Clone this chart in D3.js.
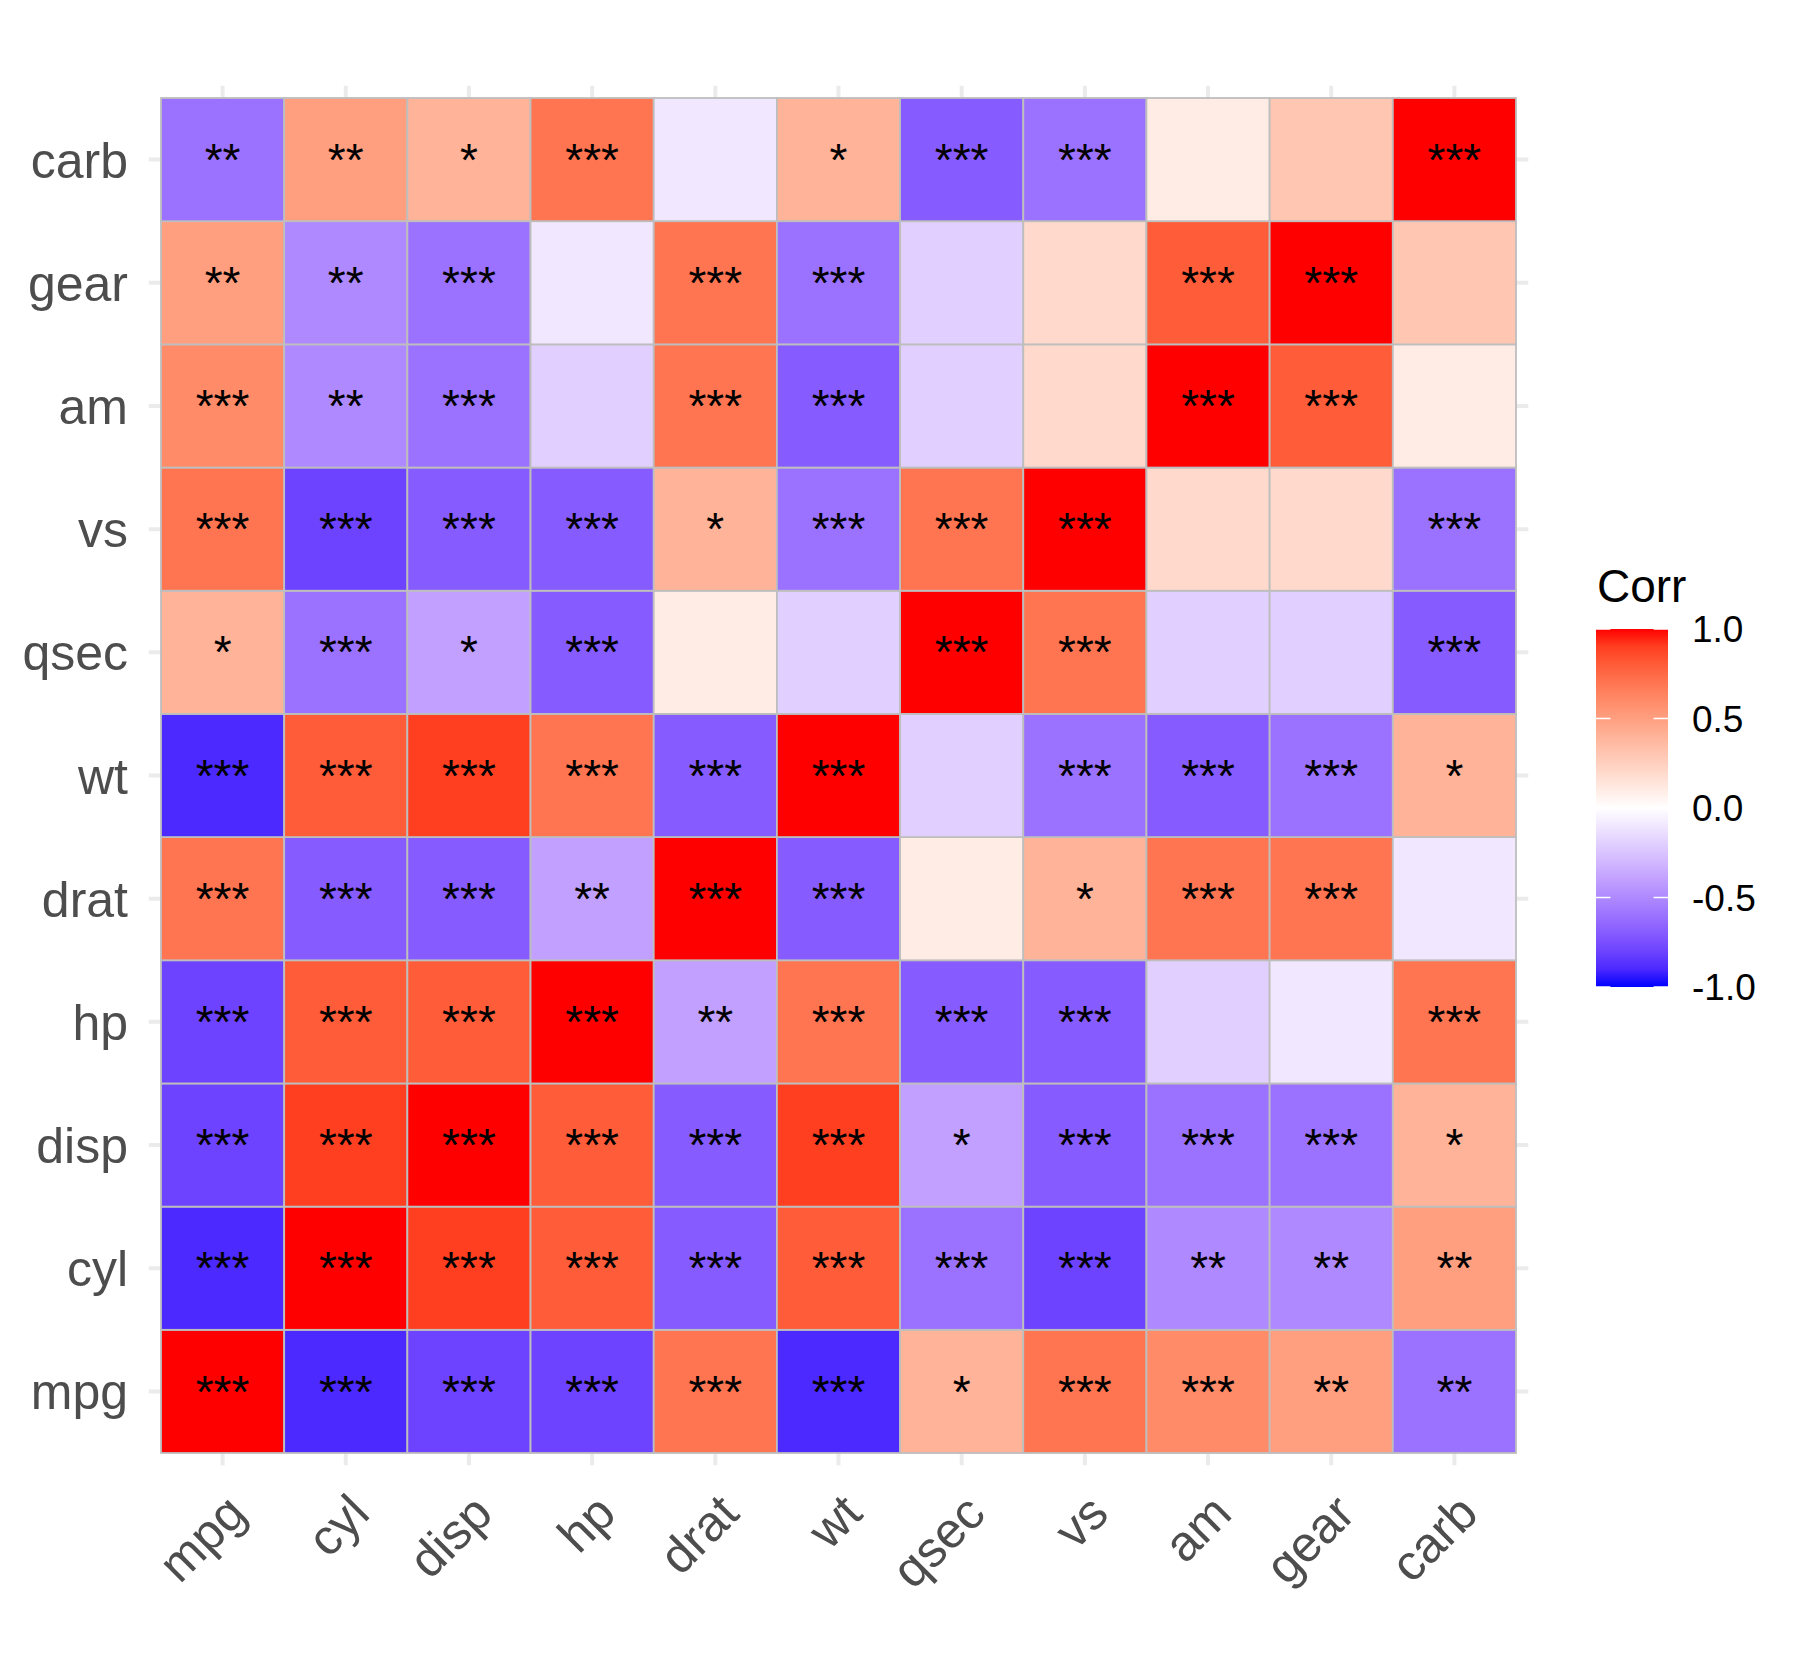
<!DOCTYPE html>
<html>
<head>
<meta charset="utf-8">
<script src="https://cdn.jsdelivr.net/npm/d3@7"></script>
<style>
  body { margin: 0; background: #fff; }
  text { font-family: "Liberation Sans", Arial, sans-serif; }
</style>
</head>
<body>
<div id="chart"></div>
<script>
// variables, same order on both axes (mpg first: left / bottom)
const vars = ["mpg", "cyl", "disp", "hp", "drat", "wt", "qsec", "vs", "am", "gear", "carb"];

// correlation per row variable (rounded to one decimal), columns in `vars` order
const corrMpg  = [ 1.0, -0.9, -0.8, -0.8,  0.7, -0.9,  0.4,  0.7,  0.6,  0.5, -0.6];
const corrCyl  = [-0.9,  1.0,  0.9,  0.8, -0.7,  0.8, -0.6, -0.8, -0.5, -0.5,  0.5];
const corrDisp = [-0.8,  0.9,  1.0,  0.8, -0.7,  0.9, -0.4, -0.7, -0.6, -0.6,  0.4];
const corrHp   = [-0.8,  0.8,  0.8,  1.0, -0.4,  0.7, -0.7, -0.7, -0.2, -0.1,  0.7];
const corrDrat = [ 0.7, -0.7, -0.7, -0.4,  1.0, -0.7,  0.1,  0.4,  0.7,  0.7, -0.1];
const corrWt   = [-0.9,  0.8,  0.9,  0.7, -0.7,  1.0, -0.2, -0.6, -0.7, -0.6,  0.4];
const corrQsec = [ 0.4, -0.6, -0.4, -0.7,  0.1, -0.2,  1.0,  0.7, -0.2, -0.2, -0.7];
const corrVs   = [ 0.7, -0.8, -0.7, -0.7,  0.4, -0.6,  0.7,  1.0,  0.2,  0.2, -0.6];
const corrAm   = [ 0.6, -0.5, -0.6, -0.2,  0.7, -0.7, -0.2,  0.2,  1.0,  0.8,  0.1];
const corrGear = [ 0.5, -0.5, -0.6, -0.1,  0.7, -0.6, -0.2,  0.2,  0.8,  1.0,  0.3];
const corrCarb = [-0.6,  0.5,  0.4,  0.7, -0.1,  0.4, -0.7, -0.6,  0.1,  0.3,  1.0];

// significance labels, same layout
const sigMpg  = ["***", "***", "***", "***", "***", "***", "*",   "***", "***", "**",  "**"];
const sigCyl  = ["***", "***", "***", "***", "***", "***", "***", "***", "**",  "**",  "**"];
const sigDisp = ["***", "***", "***", "***", "***", "***", "*",   "***", "***", "***", "*"];
const sigHp   = ["***", "***", "***", "***", "**",  "***", "***", "***", "",    "",    "***"];
const sigDrat = ["***", "***", "***", "**",  "***", "***", "",    "*",   "***", "***", ""];
const sigWt   = ["***", "***", "***", "***", "***", "***", "",    "***", "***", "***", "*"];
const sigQsec = ["*",   "***", "*",   "***", "",    "",    "***", "***", "",    "",    "***"];
const sigVs   = ["***", "***", "***", "***", "*",   "***", "***", "***", "",    "",    "***"];
const sigAm   = ["***", "**",  "***", "",    "***", "***", "",    "",    "***", "***", ""];
const sigGear = ["**",  "**",  "***", "",    "***", "***", "",    "",    "***", "***", ""];
const sigCarb = ["**",  "**",  "*",   "***", "",    "*",   "***", "***", "",    "",    "***"];

const legendTicks = [1.0, 0.5, 0.0, -0.5, -1.0];

const corrRows = [corrMpg, corrCyl, corrDisp, corrHp, corrDrat, corrWt, corrQsec, corrVs, corrAm, corrGear, corrCarb];
const sigRows = [sigMpg, sigCyl, sigDisp, sigHp, sigDrat, sigWt, sigQsec, sigVs, sigAm, sigGear, sigCarb];

// long format: one record per tile
const cells = [];
vars.forEach((rowVar, i) => {
    vars.forEach((colVar, j) => {
        cells.push({row: rowVar, col: colVar, value: corrRows[i][j], sig: sigRows[i][j]});
    });
});

const W = 1800, H = 1680;
const panel = {left: 161, right: 1516, top: 98, bottom: 1453};
const pad = (panel.right - panel.left) / vars.length * 0.1;   // grid lines poke out past the tiles

const svg = d3.select("#chart").append("svg")
    .attr("width", W)
    .attr("height", H);

svg.append("rect").attr("width", W).attr("height", H).attr("fill", "#fff");

const x = d3.scaleBand().domain(vars).range([panel.left, panel.right]);
const y = d3.scaleBand().domain(vars).range([panel.bottom, panel.top]);

const color = d3.scaleLinear()
    .domain([-1, 0, 1])
    .range(["blue", "white", "red"])
    .interpolate(d3.interpolateLab);

// grid
const grid = svg.append("g").attr("stroke", "#EBEBEB").attr("stroke-width", 4);
grid.selectAll(".vgrid")
    .data(vars)
    .enter().append("line")
    .attr("x1", d => x(d) + x.bandwidth() / 2)
    .attr("x2", d => x(d) + x.bandwidth() / 2)
    .attr("y1", panel.top - pad)
    .attr("y2", panel.bottom + pad);
grid.selectAll(".hgrid")
    .data(vars)
    .enter().append("line")
    .attr("y1", d => y(d) + y.bandwidth() / 2)
    .attr("y2", d => y(d) + y.bandwidth() / 2)
    .attr("x1", panel.left - pad)
    .attr("x2", panel.right + pad);

// tiles
svg.selectAll(".tile")
    .data(cells)
    .enter().append("rect")
    .attr("class", "tile")
    .attr("x", d => x(d.col))
    .attr("y", d => y(d.row))
    .attr("width", x.bandwidth())
    .attr("height", y.bandwidth())
    .attr("fill", d => color(d.value))
    .attr("stroke", "#BEBEBE")
    .attr("stroke-width", 1.8);

// significance stars
svg.selectAll(".sig")
    .data(cells)
    .enter().append("text")
    .attr("x", d => x(d.col) + x.bandwidth() / 2)
    .attr("y", d => y(d.row) + y.bandwidth() / 2)
    .attr("dy", "0.35em")
    .attr("text-anchor", "middle")
    .attr("font-size", 46)
    .attr("fill", "#000")
    .text(d => d.sig);

// y axis labels
svg.selectAll(".ylab")
    .data(vars)
    .enter().append("text")
    .attr("x", 128)
    .attr("y", d => y(d) + y.bandwidth() / 2)
    .attr("dy", "0.36em")
    .attr("text-anchor", "end")
    .attr("font-size", 50)
    .attr("fill", "#4D4D4D")
    .text(d => d);

// x axis labels, rotated 45
svg.selectAll(".xlab")
    .data(vars)
    .enter().append("text")
    .attr("transform", d => `translate(${x(d) + x.bandwidth() / 2 + 26}, 1516) rotate(-45)`)
    .attr("text-anchor", "end")
    .attr("font-size", 50)
    .attr("fill", "#4D4D4D")
    .text(d => d);

// legend
const barX = 1596, barW = 72, barTop = 629, barBottom = 987;
const ly = d3.scaleLinear().domain([-1, 1]).range([barBottom, barTop]);

const grad = svg.append("defs").append("linearGradient")
    .attr("id", "corrGrad")
    .attr("x1", 0).attr("y1", 1).attr("x2", 0).attr("y2", 0);
grad.selectAll("stop")
    .data(d3.range(0, 1.0001, 0.05))
    .enter().append("stop")
    .attr("offset", d => d)
    .attr("stop-color", d => color(d * 2 - 1));

svg.append("rect")
    .attr("x", barX)
    .attr("y", barTop)
    .attr("width", barW)
    .attr("height", barBottom - barTop)
    .attr("fill", "url(#corrGrad)");

const tickLen = 14.4;
const ticks = svg.append("g").attr("stroke", "#fff").attr("stroke-width", 1.5);
ticks.selectAll(".tl")
    .data(legendTicks)
    .enter().append("line")
    .attr("x1", barX).attr("x2", barX + tickLen)
    .attr("y1", d => ly(d)).attr("y2", d => ly(d));
ticks.selectAll(".tr")
    .data(legendTicks)
    .enter().append("line")
    .attr("x1", barX + barW - tickLen).attr("x2", barX + barW)
    .attr("y1", d => ly(d)).attr("y2", d => ly(d));

svg.selectAll(".ltick")
    .data(legendTicks)
    .enter().append("text")
    .attr("x", 1692)
    .attr("y", d => ly(d))
    .attr("dy", "0.36em")
    .attr("font-size", 37)
    .attr("fill", "#000")
    .text(d => d.toFixed(1));

svg.append("text")
    .attr("x", 1597)
    .attr("y", 602)
    .attr("font-size", 46)
    .attr("fill", "#000")
    .text("Corr");
</script>
</body>
</html>
